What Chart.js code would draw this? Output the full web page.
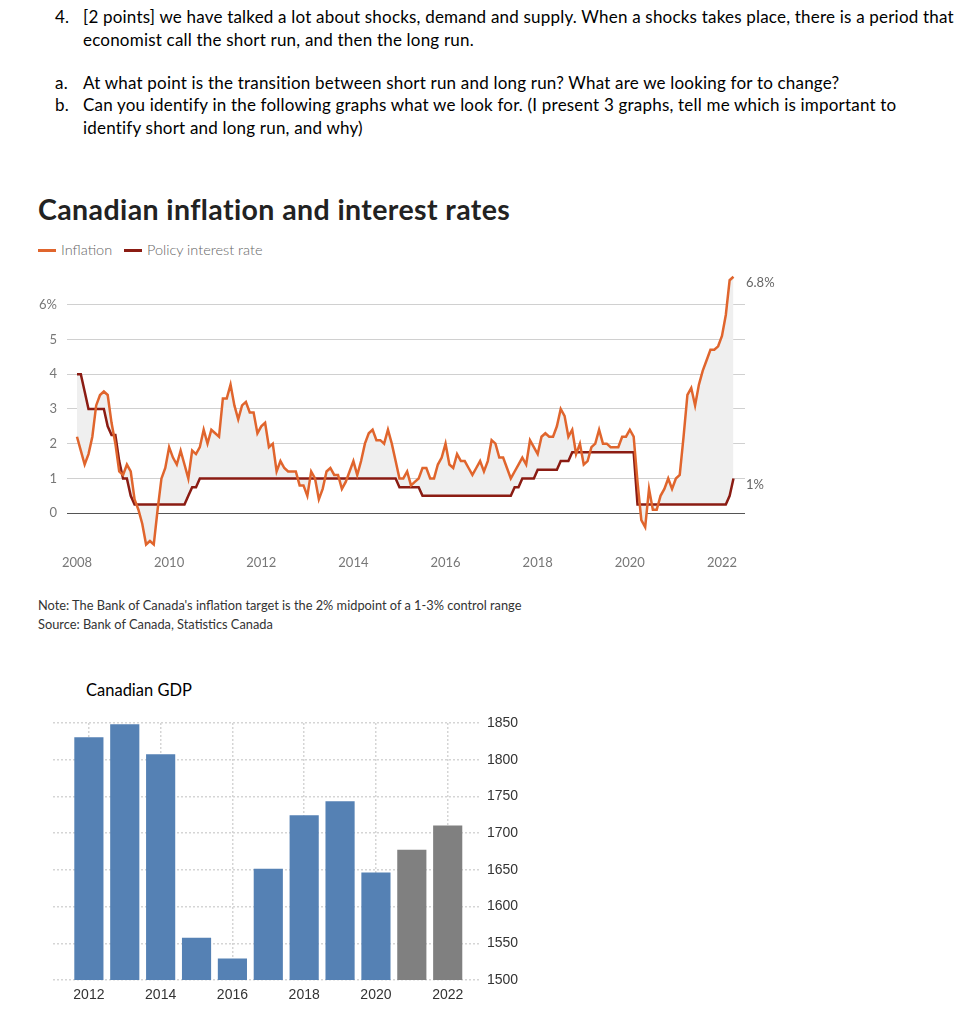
<!DOCTYPE html>
<html>
<head>
<meta charset="utf-8">
<script src="https://cdn.jsdelivr.net/npm/chart.js@4.4.1/dist/chart.umd.min.js"></script>
<style>
  body { margin: 0; background: #fff; width: 973px; height: 1024px; position: relative; overflow: hidden; }
  .t { position: absolute; white-space: nowrap; }
  .q { font-family: Lato, sans-serif; font-size: 17px; letter-spacing: 0.2px; line-height: 22px; color: #000; }
  .title { font-family: Lato, sans-serif; font-weight: 700; font-size: 28.5px; letter-spacing: 0.4px; line-height: 32px; color: #222; }
  .leg { font-family: Lato, sans-serif; font-weight: 300; font-size: 14.5px; line-height: 20px; color: #666; }
  .leg i { display: inline-block; width: 18px; height: 3px; vertical-align: middle; margin-right: 5px; position: relative; top: -1px; }
  .note { font-family: Lato, sans-serif; font-size: 12.8px; line-height: 18px; color: #333; }
  canvas { position: absolute; left: 0; }
</style>
</head>
<body>

<div class="t q" style="left:55px;top:6px">4.</div>
<div class="t q" style="left:83px;top:6px">[2 points] we have talked a lot about shocks, demand and supply. When a shocks takes place, there is a period that</div>
<div class="t q" style="left:83px;top:29px">economist call the short run, and then the long run.</div>
<div class="t q" style="left:55px;top:72px">a.</div>
<div class="t q" style="left:83px;top:72px">At what point is the transition between short run and long run? What are we looking for to change?</div>
<div class="t q" style="left:55px;top:94px">b.</div>
<div class="t q" style="left:83px;top:94px">Can you identify in the following graphs what we look for. (I present 3 graphs, tell me which is important to</div>
<div class="t q" style="left:83px;top:117px">identify short and long run, and why)</div>

<div class="t title" style="left:38px;top:193px">Canadian inflation and interest rates</div>
<div class="t leg" style="left:38px;top:240px"><i style="background:#e0652d"></i>Inflation&nbsp;&nbsp;&nbsp;<i style="background:#8b1c13"></i>Policy interest rate</div>

<canvas id="lineChart" width="800" height="330" style="top:252px"></canvas>

<div class="t note" style="left:38px;top:596px">Note: The Bank of Canada's inflation target is the 2% midpoint of a 1-3% control range</div>
<div class="t note" style="left:38px;top:615px">Source: Bank of Canada, Statistics Canada</div>

<div class="t q" style="left:86px;top:679px;font-size:16.5px;letter-spacing:0">Canadian GDP</div>
<canvas id="gdpChart" width="540" height="310" style="top:700px"></canvas>

<script>
// monthly, Jan 2008 - Apr 2022
var startYear = 2008;
var inflation = [
  2.2, 1.8, 1.4, 1.7, 2.2, 3.1, 3.4, 3.5, 3.4, 2.6, 2.0, 1.2,   // 2008
  1.1, 1.4, 1.2, 0.4, 0.1, -0.3, -0.9, -0.8, -0.9, 0.1, 1.0, 1.3, // 2009
  1.9, 1.6, 1.4, 1.8, 1.4, 1.0, 1.8, 1.7, 1.9, 2.4, 2.0, 2.4,   // 2010
  2.3, 2.2, 3.3, 3.3, 3.7, 3.1, 2.7, 3.1, 3.2, 2.9, 2.9, 2.3,   // 2011
  2.5, 2.6, 1.9, 2.0, 1.2, 1.5, 1.3, 1.2, 1.2, 1.2, 0.8, 0.8,   // 2012
  0.5, 1.2, 1.0, 0.4, 0.7, 1.2, 1.3, 1.1, 1.1, 0.7, 0.9, 1.2,   // 2013
  1.5, 1.1, 1.5, 2.0, 2.3, 2.4, 2.1, 2.1, 2.0, 2.4, 2.0, 1.5,   // 2014
  1.0, 1.0, 1.2, 0.8, 0.9, 1.0, 1.3, 1.3, 1.0, 1.0, 1.4, 1.6,   // 2015
  2.0, 1.4, 1.3, 1.7, 1.5, 1.5, 1.3, 1.1, 1.3, 1.5, 1.2, 1.5,   // 2016
  2.1, 2.0, 1.6, 1.6, 1.3, 1.0, 1.2, 1.4, 1.6, 1.4, 2.1, 1.9,   // 2017
  1.7, 2.2, 2.3, 2.2, 2.2, 2.5, 3.0, 2.8, 2.2, 2.4, 1.7, 2.0,   // 2018
  1.4, 1.5, 1.9, 2.0, 2.4, 2.0, 2.0, 1.9, 1.9, 1.9, 2.2, 2.2,   // 2019
  2.4, 2.2, 0.9, -0.2, -0.4, 0.7, 0.1, 0.1, 0.5, 0.7, 1.0, 0.7, // 2020
  1.0, 1.1, 2.2, 3.4, 3.6, 3.1, 3.7, 4.1, 4.4, 4.7, 4.7, 4.8,   // 2021
  5.1, 5.7, 6.7, 6.8                                            // 2022
];
var policyRate = [
  4, 4, 3.5, 3, 3, 3, 3, 3, 2.5, 2.25, 2.25, 1.5,                               // 2008
  1, 1, 0.5, 0.25, 0.25, 0.25, 0.25, 0.25, 0.25, 0.25, 0.25, 0.25,              // 2009
  0.25, 0.25, 0.25, 0.25, 0.25, 0.5, 0.75, 0.75, 1, 1, 1, 1,                    // 2010
  1, 1, 1, 1, 1, 1, 1, 1, 1, 1, 1, 1,                                           // 2011
  1, 1, 1, 1, 1, 1, 1, 1, 1, 1, 1, 1,                                           // 2012
  1, 1, 1, 1, 1, 1, 1, 1, 1, 1, 1, 1,                                           // 2013
  1, 1, 1, 1, 1, 1, 1, 1, 1, 1, 1, 1,                                           // 2014
  0.75, 0.75, 0.75, 0.75, 0.75, 0.75, 0.5, 0.5, 0.5, 0.5, 0.5, 0.5,             // 2015
  0.5, 0.5, 0.5, 0.5, 0.5, 0.5, 0.5, 0.5, 0.5, 0.5, 0.5, 0.5,                   // 2016
  0.5, 0.5, 0.5, 0.5, 0.5, 0.5, 0.75, 0.75, 1, 1, 1, 1,                         // 2017
  1.25, 1.25, 1.25, 1.25, 1.25, 1.25, 1.5, 1.5, 1.5, 1.75, 1.75, 1.75,          // 2018
  1.75, 1.75, 1.75, 1.75, 1.75, 1.75, 1.75, 1.75, 1.75, 1.75, 1.75, 1.75,       // 2019
  1.75, 1.75, 0.25, 0.25, 0.25, 0.25, 0.25, 0.25, 0.25, 0.25, 0.25, 0.25,       // 2020
  0.25, 0.25, 0.25, 0.25, 0.25, 0.25, 0.25, 0.25, 0.25, 0.25, 0.25, 0.25,       // 2021
  0.25, 0.25, 0.5, 1                                                            // 2022
];
var tickYears = [2008, 2010, 2012, 2014, 2016, 2018, 2020, 2022];
var rateTicks = [0, 1, 2, 3, 4, 5, 6];

var gdpYears = [2012, 2013, 2014, 2015, 2016, 2017, 2018, 2019, 2020, 2021, 2022];
var gdp = [1830, 1848, 1807, 1557, 1529, 1651, 1724, 1743, 1646, 1677, 1710];
var gdpForecastFrom = 2021;
var gdpTickYears = [2012, 2014, 2016, 2018, 2020, 2022];

Chart.defaults.font.family = "Lato, sans-serif";

function toPoints(arr) {
  return arr.map(function(v, i) { return { x: i, y: v }; });
}

// value labels at the right end of each line
var endLabels = {
  id: 'endLabels',
  afterDatasetsDraw: function(chart) {
    var ctx = chart.ctx;
    ctx.save();
    ctx.font = "13px Lato, sans-serif";
    ctx.fillStyle = "#666";
    ctx.textBaseline = "middle";
    chart.data.datasets.forEach(function(ds, di) {
      var meta = chart.getDatasetMeta(di);
      var last = meta.data[meta.data.length - 1];
      var v = ds.data[ds.data.length - 1].y;
      ctx.fillText(v + "%", last.x + 12.5, last.y + 6);
    });
    ctx.restore();
  }
};

new Chart(document.getElementById("lineChart").getContext("2d"), {
  type: 'line',
  data: {
    datasets: [
      {
        label: "Inflation",
        data: toPoints(inflation),
        borderColor: "#e0652d",
        borderWidth: 2.5,
        pointRadius: 0,
        tension: 0,
        fill: { target: 1, above: "#efefef", below: "#efefef" },
        backgroundColor: "#efefef"
      },
      {
        label: "Policy interest rate",
        data: toPoints(policyRate),
        borderColor: "#8b1c13",
        borderWidth: 2.5,
        pointRadius: 0,
        tension: 0,
        fill: false
      }
    ]
  },
  options: {
    responsive: false,
    animation: false,
    layout: { padding: { left: 0, right: 55, top: 7, bottom: 0 } },
    plugins: {
      legend: { display: false },
      tooltip: { enabled: false },
      filler: { drawTime: 'beforeDatasetsDraw' }
    },
    scales: {
      x: {
        type: 'linear',
        min: -2.6,
        max: 174,
        grid: { display: false },
        border: { display: false },
        afterBuildTicks: function(s) {
          s.ticks = tickYears.map(function(y) { return { value: (y - startYear) * 12 }; });
        },
        afterFit: function(s) { s.height = 34; },
        ticks: {
          padding: -1,
          color: "#777",
          font: { size: 13 },
          maxRotation: 0,
          callback: function(v) { return String(startYear + v / 12); }
        }
      },
      y: {
        min: -1,
        max: 7,
        border: { display: false },
        grid: {
          drawTicks: false,
          lineWidth: 1,
          color: function(c) { return c.tick && c.tick.value === 0 ? "#555" : "#d0d0d0"; }
        },
        afterBuildTicks: function(s) {
          s.ticks = rateTicks.map(function(v) { return { value: v }; });
        },
        afterFit: function(s) { s.width = 67; },
        ticks: {
          padding: 10,
          color: "#777",
          font: { size: 13 },
          callback: function(v) { return v === 6 ? "6%" : String(v); }
        }
      }
    }
  },
  plugins: [endLabels]
});

new Chart(document.getElementById("gdpChart").getContext("2d"), {
  type: 'bar',
  data: {
    datasets: [{
      data: gdpYears.map(function(y, i) { return { x: y, y: gdp[i] }; }),
      backgroundColor: gdpYears.map(function(y) { return y >= gdpForecastFrom ? "#808080" : "#5581b4"; }),
      barThickness: 28.5
    }]
  },
  options: {
    responsive: false,
    animation: false,
    layout: { padding: { left: 53, right: 0, top: 23, bottom: 0 } },
    plugins: { legend: { display: false }, tooltip: { enabled: false } },
    scales: {
      x: {
        type: 'linear',
        offset: false,
        min: 2011,
        max: 2022.9,
        grid: { color: "#d5d5d5", lineWidth: 1.5, drawTicks: false, offset: false },
        border: { display: false, dash: [2, 2] },
        afterBuildTicks: function(s) {
          s.ticks = gdpTickYears.map(function(y) { return { value: y }; });
        },
        afterFit: function(s) { s.height = 30; },
        ticks: {
          padding: 7,
          color: "#333",
          font: { family: "'Liberation Sans', Arial, sans-serif", size: 14 },
          maxRotation: 0,
          callback: function(v) { return String(v); }
        }
      },
      y: {
        position: 'right',
        min: 1500,
        max: 1850,
        grid: { color: "#d5d5d5", lineWidth: 1.5, drawTicks: false },
        border: { display: false, dash: [2, 2] },
        afterFit: function(s) { s.width = 60; },
        ticks: {
          stepSize: 50,
          padding: 7,
          color: "#333",
          font: { family: "'Liberation Sans', Arial, sans-serif", size: 14 },
          callback: function(v) { return String(v); }
        }
      }
    }
  }
});
</script>
</body>
</html>
